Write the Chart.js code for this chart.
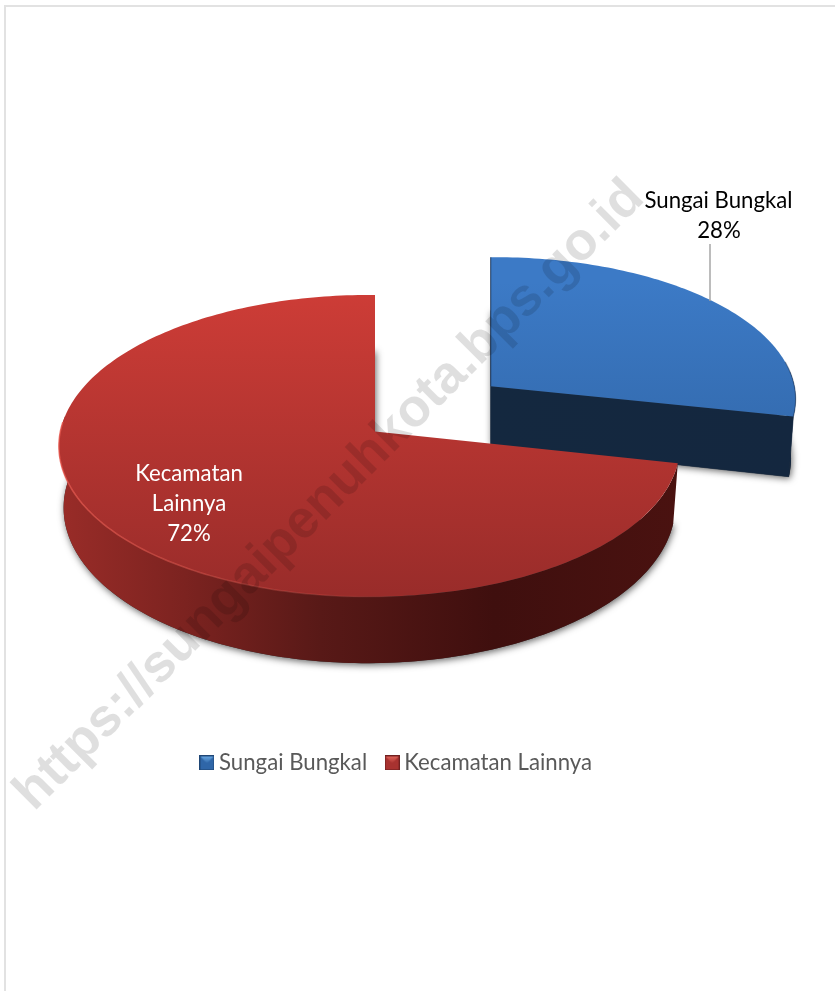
<!DOCTYPE html>
<html>
<head>
<meta charset="utf-8">
<title>Sungai Bungkal</title>
<script src="https://cdn.jsdelivr.net/npm/chart.js@4"></script>
<style>
  html, body { margin: 0; padding: 0; background: #fff; }
  #frame { position: absolute; left: 4px; top: 5px; width: 831px; height: 986px; border-left: 2px solid #e2e2e2; border-top: 2px solid #e2e2e2; box-sizing: border-box; }
  #myChart { position: absolute; left: 0; top: 0; }
</style>
</head>
<body>
<div id="frame"></div>
<canvas id="myChart" width="835" height="991"></canvas>
<script>
var categories = ['Sungai Bungkal', 'Kecamatan Lainnya'];
var values = [28.4, 71.6];
var explode = [153, 0];
var watermark = 'https://sungaipenuhkota.bps.go.id';

var FONT = "Lato, 'Open Sans', sans-serif";
var SQUASH = 0.484, PERSP = 0.0957, DEPTH = 60, TAPER = 0.985;
var tilt = [-0.012, 0.018];
var topColors = [['#3c7ac6', '#2b5c98'], ['#cf3d37', '#992c2a']];

function sliceProjector(el, i) {
  var R = el.outerRadius;
  var mid = (el.startAngle + el.endAngle) / 2;
  var off = (el.options.offset || 0) / R;
  var ox = off * Math.cos(mid), og = off * Math.sin(mid);
  var s0 = 1 / (1 - PERSP * og);
  function pt(a, r) {
    var rx = r * Math.cos(a), rg = r * Math.sin(a), g = og + rg;
    var s = 1 / (1 - PERSP * g + tilt[i] * rx);
    return { x: el.x + R * (ox * s0 + rx * s), y: el.y + SQUASH * R * g * s, s: s };
  }
  var apex = pt(0, 0);
  function low(p) {
    return { x: apex.x + (p.x - apex.x) * TAPER, y: p.y + DEPTH * p.s };
  }
  return { pt: pt, low: low, apex: apex };
}

function sweep(from, to) {
  var n = Math.max(2, Math.ceil(Math.abs(to - from) / 0.02));
  var out = [];
  for (var j = 0; j <= n; j++) out.push(from + (to - from) * j / n);
  return out;
}

function trace(ctx, pts) {
  ctx.beginPath();
  pts.forEach(function (p, j) { j ? ctx.lineTo(p.x, p.y) : ctx.moveTo(p.x, p.y); });
  ctx.closePath();
}

function wallGradient(ctx, i) {
  var g;
  if (i === 0) {
    g = ctx.createLinearGradient(480, 0, 800, 0);
    g.addColorStop(0, '#14283f');
    g.addColorStop(1, '#14273f');
    return g;
  }
  g = ctx.createLinearGradient(60, 0, 680, 0);
  g.addColorStop(0, '#992c28');
  g.addColorStop(0.2, '#7c2320');
  g.addColorStop(0.42, '#581917');
  g.addColorStop(0.7, '#3f0f0e');
  g.addColorStop(1, '#4a1210');
  return g;
}

function drawSlice(ctx, el, i) {
  var p = sliceProjector(el, i);
  var rim = sweep(el.startAngle, el.endAngle).map(function (a) { return p.pt(a, 1); });
  var face = [p.apex].concat(rim);

  // base with its soft shadow
  ctx.save();
  ctx.shadowColor = 'rgba(0,0,0,0.6)';
  ctx.shadowBlur = 7;
  ctx.shadowOffsetX = 1;
  ctx.shadowOffsetY = 2;
  ctx.fillStyle = '#333';
  trace(ctx, face.map(p.low));
  ctx.fill();
  ctx.restore();

  // side wall, only the part that faces the viewer
  var wall = wallGradient(ctx, i);
  ctx.fillStyle = wall;
  ctx.strokeStyle = wall;
  ctx.lineWidth = 0.6;
  var a0 = Math.max(el.startAngle, -0.1), a1 = Math.min(el.endAngle, Math.PI + 0.1);
  if (a1 > a0) {
    var front = sweep(a0, a1).map(function (a) { return p.pt(a, 1); });
    trace(ctx, front.concat(front.map(p.low).reverse()));
    ctx.fill();
  }
  if (i === 0) {
    var tip = p.pt(el.endAngle, 1);
    trace(ctx, [p.apex, tip, p.low(tip), p.low(p.apex)]);
    ctx.fill();
    ctx.stroke();
  }

  // top face
  var grad = ctx.createLinearGradient(0, el.y - SQUASH * el.outerRadius, 0, el.y + SQUASH * el.outerRadius * 1.1);
  grad.addColorStop(0, topColors[i][0]);
  grad.addColorStop(1, topColors[i][1]);
  ctx.fillStyle = grad;
  trace(ctx, face);
  ctx.fill();

  // bevel along the rim
  ctx.save();
  if (i === 1) {
    var edge = sweep(Math.PI * 0.35, Math.PI * 1.02).map(function (a) { return p.pt(a, 1); });
    var glow = ctx.createLinearGradient(60, 0, 420, 0);
    glow.addColorStop(0, 'rgba(235,90,80,0.75)');
    glow.addColorStop(1, 'rgba(235,90,80,0)');
    ctx.strokeStyle = glow;
    ctx.lineWidth = 1.5;
    ctx.beginPath();
    edge.forEach(function (q, j) { j ? ctx.lineTo(q.x, q.y) : ctx.moveTo(q.x, q.y); });
    ctx.stroke();
  } else {
    ctx.strokeStyle = 'rgba(20,45,80,0.75)';
    ctx.lineWidth = 1.2;
    var top = p.pt(el.startAngle, 1);
    ctx.beginPath();
    ctx.moveTo(top.x, top.y);
    ctx.lineTo(p.apex.x, p.apex.y);
    ctx.stroke();
    ctx.strokeStyle = 'rgba(20,45,80,0.45)';
    var side = sweep(el.startAngle + 1.4, el.endAngle).map(function (a) { return p.pt(a, 1); });
    ctx.beginPath();
    side.forEach(function (q, j) { j ? ctx.lineTo(q.x, q.y) : ctx.moveTo(q.x, q.y); });
    ctx.stroke();
  }
  ctx.restore();
}

function legendIcon(light, mid, dark) {
  var c = document.createElement('canvas');
  c.width = 15;
  c.height = 15;
  var x = c.getContext('2d');
  x.fillStyle = mid;
  x.fillRect(0, 0, 15, 15);
  var t = x.createLinearGradient(0, 0, 0, 8);
  t.addColorStop(0, light);
  t.addColorStop(1, mid);
  x.fillStyle = t;
  x.beginPath();
  x.moveTo(1, 1);
  x.lineTo(14, 1);
  x.lineTo(7.5, 8);
  x.closePath();
  x.fill();
  x.strokeStyle = dark;
  x.lineWidth = 1;
  x.strokeRect(0.5, 0.5, 14, 14);
  return c;
}
var legendIcons = [legendIcon('#6fb0ea', '#2f66a8', '#1f4675'), legendIcon('#e86a60', '#a83230', '#702020')];

var pie3d = {
  id: 'pie3d',
  afterLayout: function (chart) {
    chart.legend.left += 24;
    chart.legend.right += 24;
  },
  beforeDatasetsDraw: function (chart) {
    var ctx = chart.ctx;
    var arcs = chart.getDatasetMeta(0).data;
    drawSlice(ctx, arcs[0], 0);
    drawSlice(ctx, arcs[1], 1);
    return false;
  },
  afterDraw: function (chart) {
    var ctx = chart.ctx;
    var total = values[0] + values[1];
    ctx.save();
    // leader line of the blue label
    ctx.strokeStyle = '#a6a6a6';
    ctx.lineWidth = 1.5;
    ctx.beginPath();
    ctx.moveTo(710, 244);
    ctx.lineTo(710, 301);
    ctx.stroke();

    ctx.font = '22.2px ' + FONT;
    ctx.textAlign = 'center';
    ctx.textBaseline = 'middle';
    ctx.fillStyle = '#000';
    ctx.fillText(categories[0], 718.5, 201);
    ctx.fillText(Math.round(values[0] / total * 100) + '%', 719, 231);
    ctx.fillStyle = '#fff';
    ctx.fillText('Kecamatan', 189, 474);
    ctx.fillText('Lainnya', 189, 504);
    ctx.fillText(Math.round(values[1] / total * 100) + '%', 189, 534);

    // watermark
    ctx.translate(34, 812);
    ctx.rotate(-Math.PI / 4);
    ctx.font = "bold 53px 'Liberation Sans', Arial, sans-serif";
    ctx.textAlign = 'left';
    ctx.textBaseline = 'alphabetic';
    ctx.fillStyle = 'rgba(0,0,0,0.125)';
    ctx.fillText(watermark, 0, 0);
    ctx.restore();
  }
};

new Chart(document.getElementById('myChart').getContext('2d'), {
  type: 'pie',
  data: {
    labels: categories,
    datasets: [{
      data: values,
      offset: explode,
      backgroundColor: ['#2f66a8', '#b03330'],
      borderWidth: 0
    }]
  },
  options: {
    responsive: false,
    animation: false,
    radius: 309,
    layout: {
      autoPadding: false,
      padding: { left: 0, right: 85, top: 135, bottom: 207 }
    },
    plugins: {
      tooltip: { enabled: false },
      legend: {
        position: 'bottom',
        labels: {
          usePointStyle: true,
          pointStyleWidth: 2,
          padding: 24,
          color: '#595959',
          font: { size: 22.2, family: FONT },
          generateLabels: function (chart) {
            return categories.map(function (name, i) {
              return { text: name, pointStyle: legendIcons[i], fillStyle: '#000', lineWidth: 0, hidden: false, index: i, fontColor: '#595959' };
            });
          }
        }
      }
    }
  },
  plugins: [pie3d]
});
</script>
</body>
</html>
